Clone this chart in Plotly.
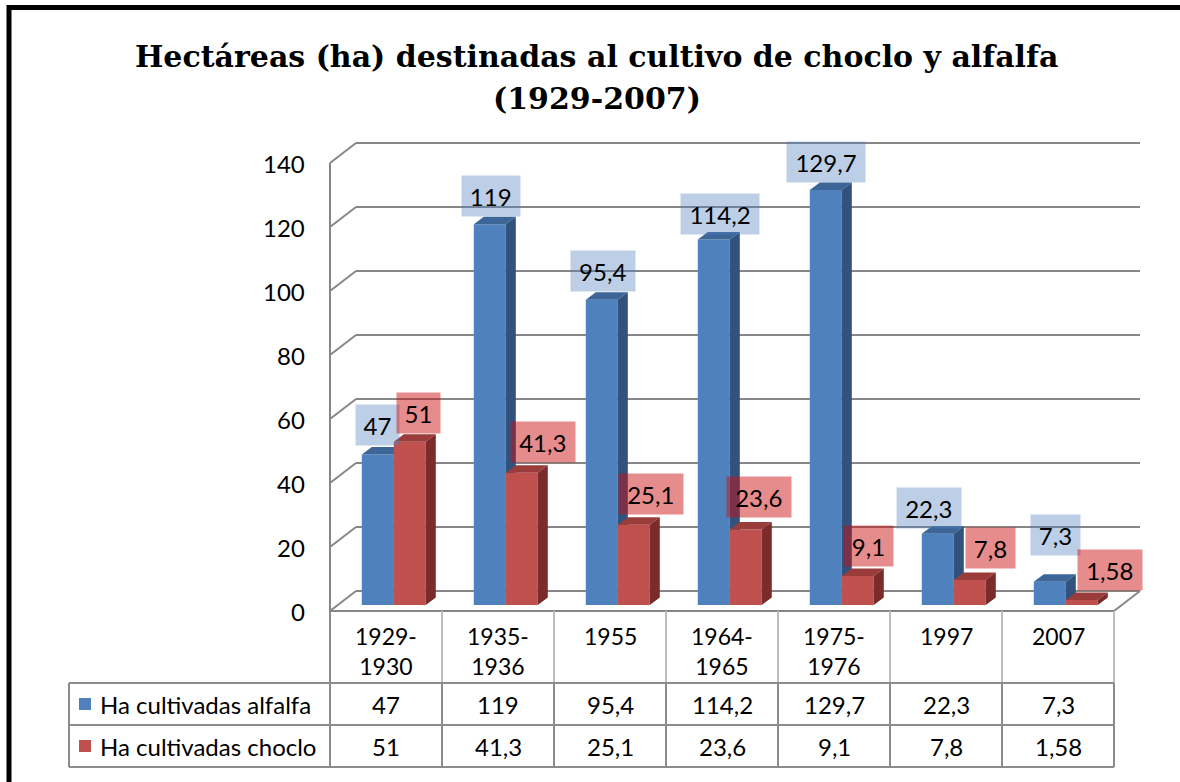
import plotly.graph_objects as go

# ---------------- data ----------------
categories = ["1929-1930", "1935-1936", "1955", "1964-1965", "1975-1976", "1997", "2007"]
alfalfa = [47, 119, 95.4, 114.2, 129.7, 22.3, 7.3]
choclo = [51, 41.3, 25.1, 23.6, 9.1, 7.8, 1.58]
series_names = ["Ha cultivadas alfalfa", "Ha cultivadas choclo"]
y_ticks = [0, 20, 40, 60, 80, 100, 120, 140]
title_lines = ["Hectáreas (ha) destinadas al cultivo de choclo y alfalfa", "(1929-2007)"]

# ---------------- style / geometry (pixels) ----------------
W, H = 1180, 782
CAT_PX = 112          # width of one category slot
CAT0_PX = 386         # pixel x of first category centre (front plane)
UNIT_PX = 3.2         # pixels per hectare unit
ZERO_PX = 611         # pixel y of value 0 on the front plane
WALL_DX, WALL_DY = 26, 20      # depth of the 3-D box
BAR_DX, BAR_DY = 7.8, 6        # bars sit 30 % into the depth
SIDE_DX, SIDE_DY = 10, 7.5     # bar thickness in depth
BAR_W = 32
GRID = "#868686"
BLUE = dict(front="#4F81BD", top="#3D6698", side="#30527C", label="rgba(79,129,189,0.38)")
RED = dict(front="#C0504D", top="#9A3D3A", side="#7B2C2A", label="rgba(205,15,15,0.48)")
LABEL_DX_BLUE = [0, 1, 1, 6, 0, -9, 6]
LABEL_DX_RED = [9, 21, 17, 13, 11, 21, 28]
LABEL_GAP_BLUE = [9, 7, 8, 5, 7, 5, 26]
LABEL_GAP_RED = [8, 10, 10, 11, 9, 11, 9]
FONT = "Lato"
TXT = 24
TITLE_FONT = "DejaVu Serif"
TITLE_SIZE = 30


def ux(px):
    return px / CAT_PX


def uy(px):
    return px / UNIT_PX


def pp_x(px):
    return px / W


def pp_y(py):
    return 1 - py / H


def fmt(v):
    return f"{v:g}".replace(".", ",")


n = len(categories)
x_left_front = -0.5
x_right_front = n - 0.5

fig = go.Figure()


def faces(values, off_px):
    fr_x, fr_y, tp_x, tp_y, sd_x, sd_y = [], [], [], [], [], []
    sdx, sdy = ux(SIDE_DX), uy(SIDE_DY)
    for i, v in enumerate(values):
        xl = i + ux(BAR_DX + off_px)
        xr = xl + ux(BAR_W)
        yb = uy(BAR_DY)
        yt = yb + v
        fr_x += [xl, xr, xr, xl, xl, None]
        fr_y += [yb, yb, yt, yt, yb, None]
        tp_x += [xl, xr, xr + sdx, xl + sdx, xl, None]
        tp_y += [yt, yt, yt + sdy, yt + sdy, yt, None]
        sd_x += [xr, xr + sdx, xr + sdx, xr, xr, None]
        sd_y += [yb, yb + sdy, yt + sdy, yt, yb, None]
    return (fr_x, fr_y), (tp_x, tp_y), (sd_x, sd_y)


for vals, off, col, name in [(alfalfa, -BAR_W, BLUE, series_names[0]), (choclo, 0, RED, series_names[1])]:
    fr, tp, sd = faces(vals, off)
    for (xs, ys), key in [(fr, "front"), (tp, "top"), (sd, "side")]:
        fig.add_trace(go.Scatter(x=xs, y=ys, fill="toself", mode="lines",
                                 line=dict(width=0), fillcolor=col[key],
                                 name=name, showlegend=False, hoverinfo="skip"))

shapes = []
line_grid = dict(color=GRID, width=2)
bx, by = ux(WALL_DX), uy(WALL_DY)
for t in y_ticks:
    shapes.append(dict(type="line", xref="x", yref="y", x0=x_left_front + bx, x1=x_right_front + bx,
                       y0=t + by, y1=t + by, line=line_grid, layer="below"))
    shapes.append(dict(type="line", xref="x", yref="y", x0=x_left_front, x1=x_left_front + bx,
                       y0=t, y1=t + by, line=line_grid, layer="below"))
shapes.append(dict(type="line", xref="x", yref="y", x0=x_left_front, x1=x_left_front,
                   y0=0, y1=y_ticks[-1], line=line_grid, layer="below"))
shapes.append(dict(type="line", xref="x", yref="y", x0=x_left_front, x1=x_right_front,
                   y0=0, y1=0, line=line_grid, layer="below"))
shapes.append(dict(type="line", xref="x", yref="y", x0=x_right_front, x1=x_right_front + bx,
                   y0=0, y1=by, line=line_grid, layer="below"))

# ---------------- data table ----------------
TABLE_LEFT_PX = 69
ROW_Y = [683, 725, 767]
HEADER_LINE = "#BDBDBD"
TABLE_LINE = "#8C8C8C"
for k in range(n + 1):
    xk = k - 0.5
    shapes.append(dict(type="line", xref="x", yref="paper", x0=xk, x1=xk,
                       y0=pp_y(ZERO_PX), y1=pp_y(ROW_Y[0]),
                       line=dict(color=HEADER_LINE if k > 0 else TABLE_LINE, width=2)))
    shapes.append(dict(type="line", xref="x", yref="paper", x0=xk, x1=xk,
                       y0=pp_y(ROW_Y[0]), y1=pp_y(ROW_Y[-1]), line=dict(color=TABLE_LINE, width=2)))
shapes.append(dict(type="line", xref="paper", yref="paper", x0=pp_x(TABLE_LEFT_PX), x1=pp_x(TABLE_LEFT_PX),
                   y0=pp_y(ROW_Y[0]), y1=pp_y(ROW_Y[-1]), line=dict(color=TABLE_LINE, width=2)))
for ry in ROW_Y:
    shapes.append(dict(type="line", xref="paper", yref="paper", x0=pp_x(TABLE_LEFT_PX),
                       x1=pp_x(CAT0_PX + CAT_PX * (n - 0.5)),
                       y0=pp_y(ry), y1=pp_y(ry), line=dict(color=TABLE_LINE, width=2)))

for r, col in enumerate([BLUE, RED]):
    cy = (ROW_Y[r] + ROW_Y[r + 1]) / 2
    shapes.append(dict(type="rect", xref="paper", yref="paper", x0=pp_x(79), x1=pp_x(91),
                       y0=pp_y(cy + 6), y1=pp_y(cy - 6), fillcolor=col["front"], line=dict(width=0)))

# outer chart frame
shapes.append(dict(type="rect", xref="paper", yref="paper", x0=pp_x(9), x1=pp_x(W + 20),
                   y0=pp_y(H + 20), y1=pp_y(7.5), line=dict(color="black", width=5)))

annotations = []
annotations.append(dict(text="<b>" + title_lines[0] + "</b>", xref="paper", yref="paper",
                        x=pp_x(596), y=pp_y(56), showarrow=False, xanchor="center", yanchor="middle",
                        font=dict(family=TITLE_FONT, size=TITLE_SIZE, color="black")))
annotations.append(dict(text="<b>" + title_lines[1] + "</b>", xref="paper", yref="paper",
                        x=pp_x(597), y=pp_y(98), showarrow=False, xanchor="center", yanchor="middle",
                        font=dict(family=TITLE_FONT, size=TITLE_SIZE, color="black")))
for t in y_ticks:
    annotations.append(dict(text=str(t), xref="x", yref="y", x=x_left_front, y=t, xshift=-23,
                            showarrow=False, xanchor="right", yanchor="middle",
                            font=dict(family=FONT, size=TXT, color="black")))
for i, c in enumerate(categories):
    annotations.append(dict(text=c.replace("-", "-<br>"), xref="x", yref="paper", x=i, y=pp_y(620),
                            showarrow=False, xanchor="center", yanchor="top",
                            font=dict(family=FONT, size=TXT - 1, color="black")))
for r, (name, vals) in enumerate(zip(series_names, [alfalfa, choclo])):
    cy = (ROW_Y[r] + ROW_Y[r + 1]) / 2
    annotations.append(dict(text=name, xref="paper", yref="paper", x=pp_x(98), y=pp_y(cy),
                            showarrow=False, xanchor="left", yanchor="middle",
                            font=dict(family=FONT, size=TXT, color="black")))
    for i, v in enumerate(vals):
        annotations.append(dict(text=fmt(v), xref="x", yref="paper", x=i, y=pp_y(cy),
                                showarrow=False, xanchor="center", yanchor="middle",
                                font=dict(family=FONT, size=TXT, color="black")))


def label_width(s):
    return 14.5 * sum(ch.isdigit() for ch in s) + 6 * s.count(",") + 4


for vals, off, col, ldx, lgap in [(alfalfa, -BAR_W, BLUE, LABEL_DX_BLUE, LABEL_GAP_BLUE),
                                  (choclo, 0, RED, LABEL_DX_RED, LABEL_GAP_RED)]:
    for i, v in enumerate(vals):
        s = fmt(v)
        annotations.append(dict(text=s, xref="x", yref="y",
                                x=i + ux(BAR_DX + off + BAR_W / 2 + ldx[i]), y=uy(BAR_DY) + v,
                                yshift=lgap[i], showarrow=False, xanchor="center", yanchor="bottom",
                                bgcolor=col["label"], borderpad=5, height=30, width=label_width(s),
                                font=dict(family=FONT, size=TXT, color="black")))

fig.update_layout(
    width=W, height=H, autosize=False,
    margin=dict(l=0, r=0, t=0, b=0),
    paper_bgcolor="white", plot_bgcolor="white",
    xaxis=dict(range=[-CAT0_PX / CAT_PX, (W - CAT0_PX) / CAT_PX], visible=False, fixedrange=True),
    yaxis=dict(range=[(ZERO_PX - H) / UNIT_PX, ZERO_PX / UNIT_PX], visible=False, fixedrange=True),
    shapes=shapes, annotations=annotations, showlegend=False,
)

fig.write_html("out.html", config={"displayModeBar": False},
               post_script="document.body.style.margin='0';document.body.style.overflow='hidden';")
